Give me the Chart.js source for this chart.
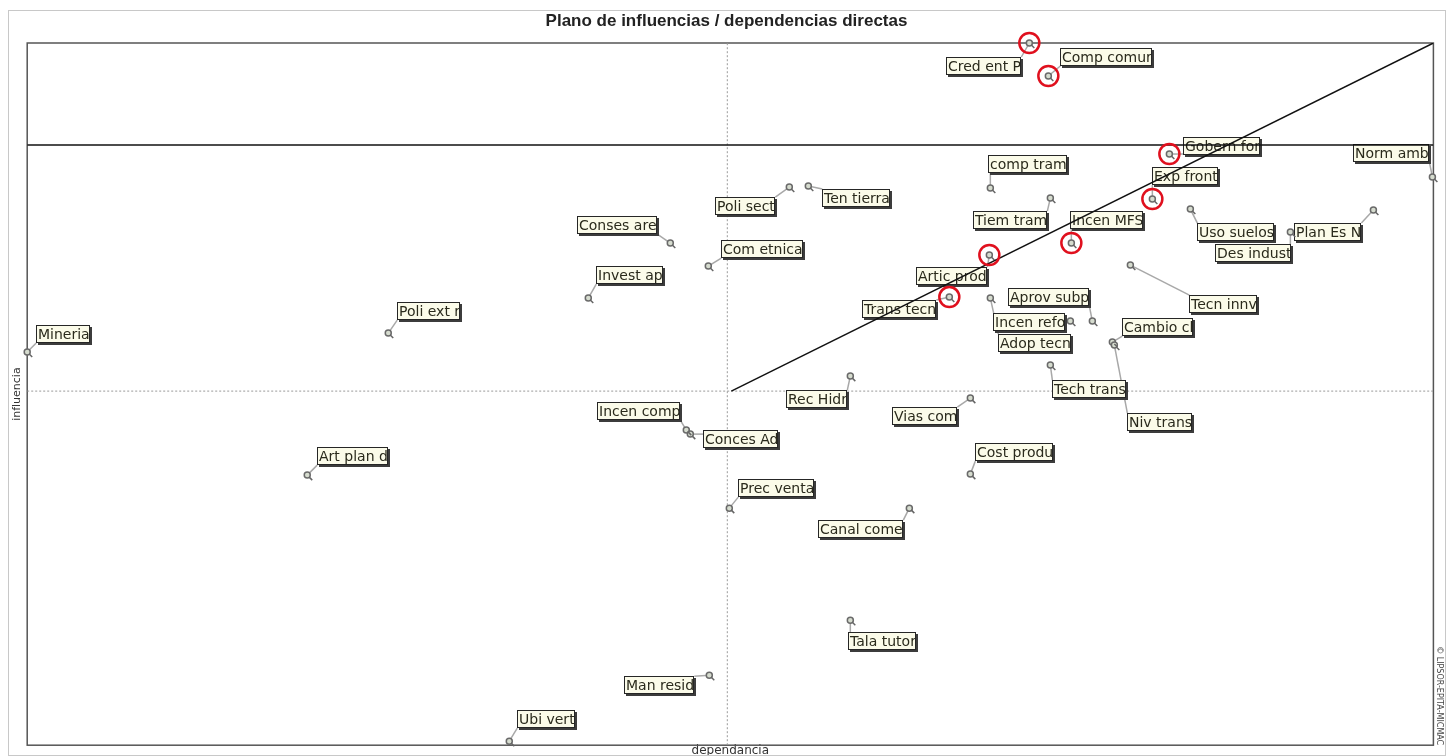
<!DOCTYPE html>
<html lang="es">
<head>
    <meta charset="UTF-8">
    <title>Plano de influencias / dependencias directas</title>
    <script src="https://cdn.jsdelivr.net/npm/chart.js@4.4.1/dist/chart.umd.min.js"></script>
    <style>
        body { margin: 0; background: #fff; }
        canvas { display: block; }
    </style>
</head>
<body>
    <canvas id="plano" width="1447" height="756"></canvas>
    <script>
        // variables (etiquetas cortas tal como salen en el plano)
        const variables = [
            'Cred ent P', 'Comp comur', 'Gobern for', 'Exp front', 'Norm amb',
            'comp tram', 'Tiem tram', 'Incen MFS', 'Ten tierra', 'Poli sect',
            'Uso suelos', 'Plan Es N', 'Des indust', 'Conses are', 'Com etnica',
            'Invest ap', 'Artic prod', 'Trans tecn', 'Aprov subp', 'Incen refo',
            'Adop tecn', 'Cambio cl', 'Niv trans', 'Tech trans', 'Tecn innv',
            'Poli ext r', 'Mineria', 'Rec Hidr', 'Vias com', 'Incen comp',
            'Conces Ad', 'Art plan d', 'Cost produ', 'Prec venta', 'Canal come',
            'Tala tutor', 'Man resid', 'Ubi vert'
        ];
        const dependencia = [
            1002, 1021, 1142, 1125, 1405,
            963, 1023, 1044, 781, 762,
            1163, 1346, 1263, 643, 681,
            561, 962, 922, 1065, 1043,
            963, 1085, 1087, 1023, 1103,
            361, 0, 823, 943, 659,
            663, 280, 943, 702, 882,
            823, 682, 482
        ];
        const influencia = [
            702, 669, 591, 546, 568,
            557, 547, 502, 559, 558,
            536, 535, 513, 502, 479,
            447, 490, 448, 424, 424,
            447, 403, 400, 380, 480,
            412, 393, 369, 347, 315,
            311, 270, 271, 237, 237,
            125, 70, 4
        ];
        // variables marcadas con circulo rojo
        const destacadas = ['Cred ent P', 'Comp comur', 'Gobern for', 'Exp front', 'Incen MFS', 'Artic prod', 'Trans tecn'];

        const depMax = 1406, infMax = 702;
        const depMedia = 700, infMedia = 354;
        const infLimite = 600;

        // posicion de cada etiqueta respecto a su punto (px)
        const labelOffsets = [
            [-83, 14], [12, -28], [14, -17], [0, -32], [-79, -33],
            [-2, -33], [-77, 13], [-1, -32], [14, 3], [-74, 10],
            [7, 14], [-79, 13], [-75, 12], [-93, -27], [13, -26],
            [8, -32], [-73, 12], [-87, 3], [-84, -33], [-77, -8],
            [8, 36], [10, -24], [13, 68], [2, 15], [59, 30],
            [9, -31], [9, -27], [-64, 14], [-78, 9], [-89, -28],
            [13, -4], [10, -28], [5, -31], [9, -29], [-91, 12],
            [-2, 12], [-85, 1], [8, -31]
        ];

        const puntos = variables.map((v, i) => ({ x: dependencia[i], y: influencia[i] }));

        const labelFont = '14px "DejaVu Sans"';
        const boxH = 18;

        const labelBoxes = {
            id: 'labelBoxes',
            beforeDatasetDraw(chart, args) {
                if (args.index !== 0) return;
                const ctx = chart.ctx;
                const meta = chart.getDatasetMeta(0);
                ctx.save();
                ctx.font = labelFont;
                ctx.strokeStyle = '#a8a8a8';
                ctx.lineWidth = 1.5;
                meta.data.forEach((pt, i) => {
                    const w = Math.round(ctx.measureText(variables[i]).width) + 2;
                    const bx = pt.x + labelOffsets[i][0], by = pt.y + labelOffsets[i][1];
                    const cx = Math.max(bx, Math.min(pt.x, bx + w));
                    const cy = Math.max(by, Math.min(pt.y, by + boxH));
                    ctx.beginPath();
                    ctx.moveTo(pt.x, pt.y);
                    ctx.lineTo(cx, cy);
                    ctx.stroke();
                });
                ctx.restore();
            },
            afterDatasetDraw(chart, args) {
                if (args.index !== 0) return;
                const ctx = chart.ctx;
                const meta = chart.getDatasetMeta(0);
                ctx.save();
                ctx.font = labelFont;
                ctx.textBaseline = 'middle';
                meta.data.forEach((pt, i) => {
                    // cola de la lupa
                    ctx.strokeStyle = '#666';
                    ctx.lineWidth = 1.5;
                    ctx.beginPath();
                    ctx.moveTo(pt.x + 2, pt.y + 2);
                    ctx.lineTo(pt.x + 5, pt.y + 5);
                    ctx.stroke();

                    const text = variables[i];
                    const w = Math.round(ctx.measureText(text).width) + 2;
                    const bx = Math.round(pt.x + labelOffsets[i][0]);
                    const by = Math.round(pt.y + labelOffsets[i][1]);
                    ctx.fillStyle = '#3c3c3c';
                    ctx.fillRect(bx + 2, by + 2, w, boxH);
                    ctx.fillStyle = '#fbfbe9';
                    ctx.fillRect(bx, by, w, boxH);
                    ctx.fillStyle = '#2a2a1c';
                    ctx.save();
                    ctx.beginPath();
                    ctx.rect(bx, by, w - 1, boxH);
                    ctx.clip();
                    ctx.fillText(text, bx + 2, by + boxH / 2 + 1);
                    ctx.restore();
                    ctx.strokeStyle = '#262626';
                    ctx.lineWidth = 1;
                    ctx.strokeRect(bx + 0.5, by + 0.5, w - 1, boxH - 1);
                });
                ctx.restore();
            },
            afterDatasetsDraw(chart) {
                const ctx = chart.ctx;
                const meta = chart.getDatasetMeta(0);
                ctx.save();
                ctx.strokeStyle = '#e0101e';
                ctx.lineWidth = 2.5;
                meta.data.forEach((pt, i) => {
                    if (!destacadas.includes(variables[i])) return;
                    ctx.beginPath();
                    ctx.arc(pt.x, pt.y, 10, 0, Math.PI * 2);
                    ctx.stroke();
                });
                ctx.restore();
            },
            beforeDatasetsDraw(chart) {
                const { ctx, chartArea: a } = chart;
                ctx.save();
                ctx.strokeStyle = '#c8c8c8';
                ctx.lineWidth = 1;
                ctx.strokeRect(8.5, 10.5, 1437, 745);
                ctx.strokeStyle = '#555';
                ctx.lineWidth = 1.5;
                ctx.strokeRect(a.left, a.top, a.right - a.left, a.bottom - a.top);
                ctx.restore();
            }
        };

        new Chart(document.getElementById('plano'), {
            type: 'scatter',
            data: {
                datasets: [
                    {
                        label: 'variables',
                        data: puntos,
                        order: 2,
                        clip: false,
                        pointRadius: 3,
                        pointHoverRadius: 3,
                        pointBorderWidth: 1.5,
                        pointBorderColor: '#6a6a6a',
                        pointBackgroundColor: '#d6dccf'
                    },
                    {
                        label: 'media dependencia',
                        type: 'line',
                        data: [{ x: depMedia, y: 0 }, { x: depMedia, y: infMax }],
                        order: 3,
                        borderColor: '#9a9a9a',
                        borderWidth: 1,
                        borderDash: [2, 2],
                        pointRadius: 0
                    },
                    {
                        label: 'media influencia',
                        type: 'line',
                        data: [{ x: 0, y: infMedia }, { x: depMax, y: infMedia }],
                        order: 3,
                        borderColor: '#9a9a9a',
                        borderWidth: 1,
                        borderDash: [2, 2],
                        pointRadius: 0
                    },
                    {
                        label: 'limite influencia',
                        type: 'line',
                        data: [{ x: 0, y: infLimite }, { x: depMax, y: infLimite }],
                        order: 1,
                        borderColor: '#111',
                        borderWidth: 1.5,
                        pointRadius: 0
                    },
                    {
                        label: 'diagonal',
                        type: 'line',
                        data: [{ x: 704, y: infMedia }, { x: depMax, y: infMax }],
                        order: 1,
                        borderColor: '#111',
                        borderWidth: 1.5,
                        pointRadius: 0
                    }
                ]
            },
            options: {
                responsive: false,
                animation: false,
                layout: { padding: { left: 8, right: 2, top: 0, bottom: 0 } },
                plugins: {
                    legend: { display: false },
                    tooltip: { enabled: false },
                    title: {
                        display: true,
                        text: 'Plano de influencias / dependencias directas',
                        color: '#222',
                        font: { family: '"Liberation Sans", Arial, sans-serif', size: 17, weight: 'bold', lineHeight: 1.2 },
                        padding: { top: 11, bottom: 11.6 }
                    }
                },
                scales: {
                    x: {
                        type: 'linear',
                        min: 0,
                        max: depMax,
                        grid: { display: false, drawTicks: false },
                        border: { display: false },
                        ticks: { display: false },
                        title: {
                            display: true,
                            text: 'dependancia',
                            color: '#333',
                            font: { family: '"DejaVu Sans", sans-serif', size: 12, lineHeight: 0.9 },
                            padding: { top: 0, bottom: 0 }
                        }
                    },
                    y: {
                        type: 'linear',
                        min: 0,
                        max: infMax,
                        grid: { display: false, drawTicks: false },
                        border: { display: false },
                        ticks: { display: false },
                        title: {
                            display: true,
                            text: 'influencia',
                            color: '#333',
                            font: { family: '"DejaVu Sans", sans-serif', size: 11, lineHeight: 1.2 },
                            padding: { top: 3, bottom: 3 }
                        }
                    },
                    y2: {
                        type: 'linear',
                        position: 'right',
                        min: 0,
                        max: 1,
                        grid: { display: false, drawTicks: false },
                        border: { display: false },
                        ticks: { display: false },
                        title: {
                            display: true,
                            text: '© LIPSOR-EPITA-MICMAC',
                            align: 'start',
                            color: '#444',
                            font: { family: '"DejaVu Sans", sans-serif', size: 8, lineHeight: 1.2 },
                            padding: { top: 1, bottom: 1 }
                        }
                    }
                }
            },
            plugins: [labelBoxes]
        });
    </script>
</body>
</html>
